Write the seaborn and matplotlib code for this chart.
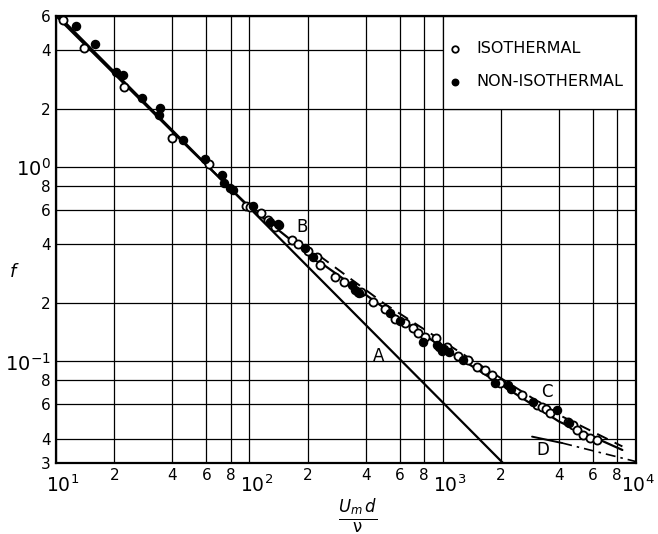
import matplotlib
matplotlib.use("Agg")
import matplotlib.pyplot as plt
from matplotlib.patches import Rectangle
from matplotlib.ticker import FixedLocator, FixedFormatter
from matplotlib.transforms import ScaledTranslation
import seaborn as sns
import pandas as pd

sns.set_theme(style="white")
plt.rcParams["font.family"] = ["DejaVu Sans"]
plt.rcParams["mathtext.default"] = "regular"
plt.rcParams["text.color"] = "black"

iso_re = [10.9, 14.0, 22.5, 39.8, 61.9, 96, 101, 115, 125, 136, 166, 179, 201, 224,
          232, 277, 309, 365, 380, 437, 503, 567, 640, 703, 746, 811, 925, 1054,
          1202, 1353, 1506, 1657, 1800, 1980, 2573, 3077, 3250, 3420, 3600, 4460,
          4700, 4950, 5320, 5790, 6300]
iso_f = [5.72, 4.10, 2.59, 1.41, 1.04, 0.632, 0.62, 0.58, 0.534, 0.492, 0.42, 0.40,
         0.371, 0.345, 0.313, 0.272, 0.256, 0.228, 0.228, 0.202, 0.186, 0.166, 0.158,
         0.149, 0.140, 0.134, 0.132, 0.119, 0.106, 0.102, 0.094, 0.0907, 0.085,
         0.0776, 0.0672, 0.0597, 0.058, 0.057, 0.0543, 0.0488, 0.047, 0.0444,
         0.0419, 0.0404, 0.0394]

noniso_re = [12.7, 15.9, 20.4, 22.2, 27.9, 34.5, 34, 45.4, 59, 72.3, 74, 79, 82.4,
             104, 128, 140, 142, 194, 213, 340, 352, 370, 534, 600, 792, 935, 960,
             990, 1020, 1080, 1275, 1866, 2180, 2250, 2940, 3900, 4500]
noniso_f = [5.33, 4.31, 3.09, 2.98, 2.27, 2.02, 1.86, 1.38, 1.10, 0.91, 0.83, 0.78,
            0.76, 0.632, 0.52, 0.51, 0.503, 0.384, 0.345, 0.247, 0.233, 0.225, 0.178,
            0.162, 0.126, 0.121, 0.118, 0.113, 0.116, 0.112, 0.102, 0.0776, 0.0758,
            0.072, 0.0618, 0.0562, 0.048]

# reference curves
a_re = [10, 2050]
a_f = [6.2, 0.03]
b_re = [10, 50, 100, 200, 500, 1000, 2000, 4000, 8500]
b_f = [6.0, 1.22, 0.625, 0.36, 0.188, 0.118, 0.076, 0.049, 0.035]
c_re = [230, 500, 1000, 2000, 4000, 8500]
c_f = [0.35, 0.198, 0.127, 0.082, 0.053, 0.0365]
d_solid_re = [2900, 4150]
d_solid_f = [0.041, 0.038]
d_dash_re = [4150, 10000]
d_dash_f = [0.038, 0.0305]

x_minor = [20, 40, 60, 80, 200, 400, 600, 800, 2000, 4000, 6000, 8000]
x_minor_lbl = ["2", "4", "6", "8"] * 3
x_major = [10, 100, 1000, 10000]
x_major_lbl = ["$10^{1}$", "$10^{2}$", "$10^{3}$", "$10^{4}$"]
y_minor = [0.03, 0.04, 0.06, 0.08, 0.2, 0.4, 0.6, 0.8, 2, 4, 6]
y_minor_lbl = ["3", "4", "6", "8", "2", "4", "6", "8", "2", "4", "6"]
y_major = [0.1, 1]
y_major_lbl = ["$10^{-1}$", "$10^{0}$"]

iso = pd.DataFrame({"Re": iso_re, "f": iso_f})
noniso = pd.DataFrame({"Re": noniso_re, "f": noniso_f})

fig = plt.figure(figsize=(6.58, 5.34), dpi=100)
ax = fig.add_axes([0.0851, 0.1330, 0.8815, 0.8371])
ax.set_xscale("log")
ax.set_yscale("log")
ax.set_xlim(10, 10000)
ax.set_ylim(0.03, 6)

ax.xaxis.set_major_locator(FixedLocator(x_major))
ax.xaxis.set_major_formatter(FixedFormatter(x_major_lbl))
ax.xaxis.set_minor_locator(FixedLocator(x_minor))
ax.xaxis.set_minor_formatter(FixedFormatter(x_minor_lbl))
ax.yaxis.set_major_locator(FixedLocator(y_major))
ax.yaxis.set_major_formatter(FixedFormatter(y_major_lbl))
ax.yaxis.set_minor_locator(FixedLocator(y_minor))
ax.yaxis.set_minor_formatter(FixedFormatter(y_minor_lbl))

ax.set_axisbelow(True)
ax.grid(True, which="both", color="black", linewidth=0.9)
ax.tick_params(which="both", length=0, colors="black")
ax.tick_params(axis="x", which="major", labelsize=13.5, pad=8)
ax.tick_params(axis="x", which="minor", labelsize=11, pad=3.5)
ax.tick_params(axis="y", which="major", labelsize=14, pad=4)
ax.tick_params(axis="y", which="minor", labelsize=11, pad=4)
for sp in ax.spines.values():
    sp.set_color("black")
    sp.set_linewidth(1.6)

# decade labels sit a little right of their grid line, as in the original
for i, lbl in enumerate(ax.xaxis.get_majorticklabels()):
    dx = 1.5 if i == len(x_major) - 1 else 5
    lbl.set_transform(lbl.get_transform() + ScaledTranslation(dx / 72, 0, fig.dpi_scale_trans))

# white box for the key, upper right
ax.add_patch(Rectangle((1000, 2), 9000, 4, facecolor="white", edgecolor="black",
                       linewidth=0.9, zorder=1))

line_kw = dict(color="black", estimator=None, sort=False, ax=ax, legend=False)
sns.lineplot(x=a_re, y=a_f, linewidth=1.6, **line_kw)
sns.lineplot(x=b_re, y=b_f, linewidth=1.6, **line_kw)
sns.lineplot(x=c_re, y=c_f, linewidth=1.4, linestyle=(0, (6, 4)), **line_kw)
sns.lineplot(x=d_solid_re, y=d_solid_f, linewidth=1.4, **line_kw)
sns.lineplot(x=d_dash_re, y=d_dash_f, linewidth=1.2, linestyle=(0, (6, 3, 1.5, 3)), **line_kw)

sns.scatterplot(data=iso, x="Re", y="f", ax=ax, marker="o", s=34, facecolor="white",
                edgecolor="black", linewidth=1.3, zorder=4, label="ISOTHERMAL")
sns.scatterplot(data=noniso, x="Re", y="f", ax=ax, marker="o", s=34, color="black",
                edgecolor="black", linewidth=1.0, zorder=5, label="NON-ISOTHERMAL")
ax.set_xlabel("")
ax.set_ylabel("")

leg = ax.legend(loc="upper left", bbox_to_anchor=((447 - 56) / 580, 1 - (41 - 16) / 447),
                frameon=False, fontsize=11.5, markerscale=0.8, handletextpad=0.85,
                labelspacing=1.15, borderaxespad=0, borderpad=0, handlelength=1.0)
for t in leg.get_texts():
    t.set_color("black")

for txt, xx, yy in [("A", 464, 0.106), ("B", 187, 0.49), ("C", 3470, 0.0697), ("D", 3300, 0.035)]:
    ax.text(xx, yy, txt, fontsize=12, ha="center", va="center", color="black", zorder=6)

fig.text(0.02, 0.49, "f", fontsize=13, style="italic", ha="center", va="center")
fig.text(0.543, 0.035, r"$\frac{\mathit{U_m\,d}}{\nu}$", fontsize=17, ha="center", va="center")

fig.savefig("out.png", dpi=100)
